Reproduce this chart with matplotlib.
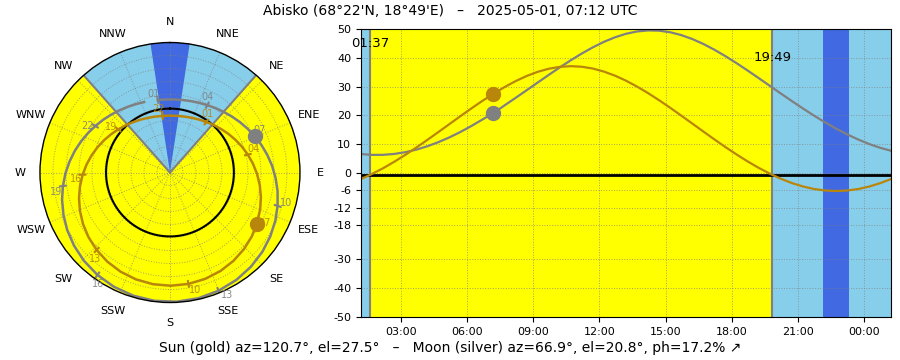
import numpy as np
import matplotlib
matplotlib.use("Agg")
import matplotlib.pyplot as plt

# location / time
title_txt = "Abisko (68°22'N, 18°49'E)   –   2025-05-01, 07:12 UTC"
info_txt = "Sun (gold) az=120.7°, el=27.5°   –   Moon (silver) az=66.9°, el=20.8°, ph=17.2% ↗"

# half-hourly positions, window 01:12 -> 01:12 next day (UTC hours)
hours = [1.2, 1.7, 2.2, 2.7, 3.2, 3.7, 4.2, 4.7, 5.2, 5.7, 6.2, 6.7, 7.2, 7.7,
         8.2, 8.7, 9.2, 9.7, 10.2, 10.7, 11.2, 11.7, 12.2, 12.7, 13.2, 13.7,
         14.2, 14.7, 15.2, 15.7, 16.2, 16.7, 17.2, 17.7, 18.2, 18.7, 19.2, 19.7,
         20.2, 20.7, 21.2, 21.7, 22.2, 22.7, 23.2, 23.7, 24.2, 24.7, 25.2]
sun_az = [35.68, 42.70, 49.65, 56.54, 63.39, 70.22, 77.05, 83.92, 90.86, 97.90,
          105.08, 112.45, 120.7, 127.84, 135.92, 144.26, 152.84, 161.63, 170.60,
          179.64, 188.68, 197.66, 206.46, 215.07, 223.43, 231.52, 239.36, 246.95,
          254.34, 261.53, 268.58, 275.53, 282.40, 289.23, 296.06, 302.91, 309.80,
          316.75, 323.77, 330.84, 337.99, 345.19, 352.44, 359.71, 6.98, 14.23,
          21.43, 28.59, 35.68]
sun_el = [-2.09, -0.33, 1.66, 3.88, 6.27, 8.82, 11.47, 14.20, 16.97, 19.73,
          22.44, 25.06, 27.5, 29.84, 31.90, 33.68, 35.13, 36.20, 36.86, 37.10,
          36.90, 36.27, 35.22, 33.81, 32.06, 30.01, 27.74, 25.27, 22.66, 19.94,
          17.19, 14.42, 11.69, 9.02, 6.47, 4.06, 1.83, -0.18, -1.95, -3.45,
          -4.65, -5.52, -6.06, -6.25, -6.08, -5.58, -4.73, -3.55, -2.09]
moon_az = [350.52, 356.96, 3.40, 9.84, 16.26, 22.67, 29.03, 35.38, 41.70, 47.99,
           54.28, 60.57, 66.9, 73.24, 79.74, 86.27, 93.07, 99.93, 107.22, 114.60,
           122.55, 130.61, 139.34, 148.22, 157.66, 167.21, 177.04, 186.90, 196.59,
           206.20, 215.30, 224.27, 232.59, 240.75, 248.33, 255.79, 262.80, 269.71,
           276.34, 282.90, 289.29, 295.66, 301.95, 308.24, 314.53, 320.81, 327.16,
           333.51, 339.90]
moon_el = [6.59, 6.30, 6.31, 6.62, 7.22, 8.11, 9.28, 10.70, 12.36, 14.25,
           16.33, 18.58, 20.8, 23.48, 26.08, 28.74, 31.41, 34.06, 36.66, 39.15,
           41.50, 43.65, 45.55, 47.12, 48.34, 49.15, 49.51, 49.42, 48.88, 47.90,
           46.53, 44.82, 42.82, 40.59, 38.17, 35.63, 33.00, 30.34, 27.67, 25.04,
           22.47, 20.00, 17.66, 15.48, 13.47, 11.68, 10.10, 8.78, 7.72]
tick_labels = ["01", "04", "07", "10", "13", "16", "19", "22"]

# current position
now_t = 7.2
sun_now = (120.7, 27.5)
moon_now = (66.9, 20.8)

# events
horizon = -0.833
sunrise_t, sunrise_az, sunrise_txt = 1.617, 41.5, "01:37"
sunset_t, sunset_az, sunset_txt = 19.817, 318.4, "19:49"
dark_t = (22.13, 23.32)        # sun below -6
dark_az = (351.4, 8.7)

t_start, t_end = 1.2, 25.2

gold = "#B8860B"
silver = "#808080"

plt.rcParams['font.family'] = 'DejaVu Sans'

fig = plt.figure(figsize=(9, 3.6), dpi=100)

#polar sky plot
ax1 = fig.add_axes([0.0444, 0.1597, 0.2889, 0.7222], projection='polar')
ax1.set_theta_zero_location('N')
ax1.set_theta_direction(-1)
ax1.set_ylim(-50, 50)
ax1.set_facecolor('yellow')

ax1.bar(np.radians(sunset_az), 100, width=np.radians(360 - sunset_az + sunrise_az),
        bottom=-50, align='edge', color='skyblue', linewidth=0)
ax1.bar(np.radians(dark_az[0]), 100, width=np.radians(360 - dark_az[0] + dark_az[1]),
        bottom=-50, align='edge', color='royalblue', linewidth=0)
for a in [sunrise_az, sunset_az]:
    ax1.plot([np.radians(a), np.radians(a)], [-50, 50], color=silver, lw=1.5)

th = np.linspace(0, 2 * np.pi, 361)
ax1.plot(th, np.full_like(th, horizon), color='black', lw=1.5)

for az, el, col in [(sun_az, sun_el, gold), (moon_az, moon_el, silver)]:
    tr = np.unwrap(np.radians(az))
    el = np.array(el)
    ax1.plot(tr, el, color=col, lw=1.8)
    for k, lab in zip(range(0, len(hours), 6), tick_labels):
        ax1.plot([tr[k], tr[k]], [el[k] - 2.2, el[k] + 2.2], color=col, lw=1.5)
        ax1.text(tr[k] - np.radians(2.5), el[k] + 5.5, lab, color=col, fontsize=7,
                 ha='center', va='center', alpha=0.9)

ax1.plot(np.radians(sun_now[0]), sun_now[1], 'o', color=gold, ms=10, zorder=5)
ax1.plot(np.radians(moon_now[0]), moon_now[1], 'o', color=silver, ms=10, zorder=5)

dirs = ["N", "NNE", "NE", "ENE", "E", "ESE", "SE", "SSE",
        "S", "SSW", "SW", "WSW", "W", "WNW", "NW", "NNW"]
ax1.set_thetagrids(np.arange(0, 360, 22.5), dirs, fontsize=8)
ax1.set_rticks(np.arange(-40, 50, 10))
ax1.set_yticklabels([])
ax1.grid(color='gray', linestyle=':', lw=0.7, alpha=0.7)
ax1.tick_params(axis='x', pad=4)
ax1.spines['polar'].set_linewidth(1.0)

#elevation vs time
ax2 = fig.add_axes([0.4011, 0.1194, 0.5889, 0.8])
ax2.set_facecolor('yellow')
ax2.axvspan(t_start, sunrise_t, color='skyblue', lw=0)
ax2.axvspan(sunset_t, t_end, color='skyblue', lw=0)
ax2.axvspan(dark_t[0], dark_t[1], color='royalblue', lw=0)
ax2.axvline(sunrise_t, color=silver, lw=1.5)
ax2.axvline(sunset_t, color=silver, lw=1.5)
ax2.axhline(horizon, color='black', lw=2)

ax2.plot(hours, moon_el, color=silver, lw=1.6)
ax2.plot(hours, sun_el, color=gold, lw=1.6)
ax2.plot(now_t, sun_now[1], 'o', color=gold, ms=10, zorder=5)
ax2.plot(now_t, moon_now[1], 'o', color=silver, ms=10, zorder=5)

ax2.text(sunrise_t, 45, sunrise_txt, fontsize=9.5, ha='center', va='center')
ax2.text(sunset_t, 40, sunset_txt, fontsize=9.5, ha='center', va='center')

ax2.set_xlim(t_start, t_end)
ax2.set_ylim(-50, 50)
xt = list(range(3, 25, 3))
ax2.set_xticks(xt, ["{:02d}:00".format(h % 24) for h in xt])
yt = [50, 40, 30, 20, 10, 0, -6, -12, -18, -30, -40, -50]
ax2.set_yticks(yt, [str(v) for v in yt])
ax2.tick_params(labelsize=8)
ax2.grid(color='gray', linestyle=':', lw=0.7, alpha=0.7)

fig.text(0.5, 0.97, title_txt, ha='center', va='center', fontsize=10)
fig.text(0.5, 0.032, info_txt, ha='center', va='center', fontsize=10)

fig.savefig("out.png", dpi=100)
